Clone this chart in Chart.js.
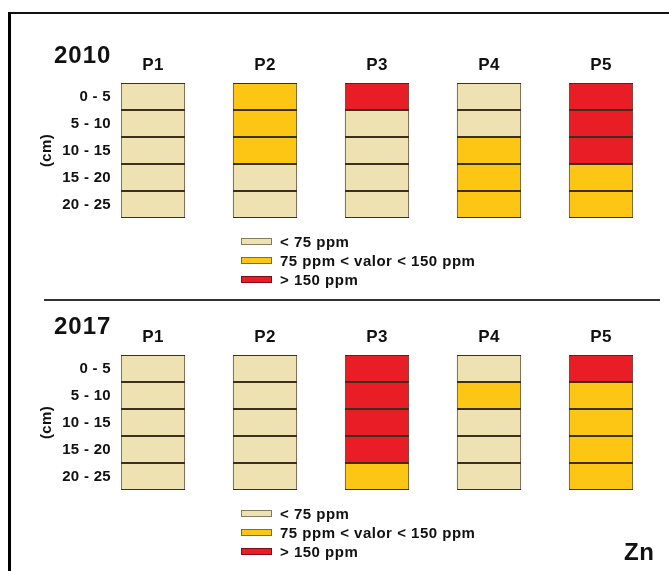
<!DOCTYPE html>
<html>
<head>
<meta charset="utf-8">
<script src="https://cdn.jsdelivr.net/npm/chart.js@4.4.0/dist/chart.umd.min.js"></script>
<style>
html,body{margin:0;padding:0;background:#fff;}
#wrap{position:relative;width:669px;height:571px;overflow:hidden;font-family:"Liberation Sans",Arial,sans-serif;font-weight:bold;color:#111;}
.frameTop{position:absolute;left:8px;top:12px;width:661px;height:2px;background:#111;}
.frameLeft{position:absolute;left:8px;top:12px;width:3px;height:559px;background:#000;}
.divider{position:absolute;left:44px;top:299px;width:616px;height:2px;background:#333;}
canvas{position:absolute;left:0;}
#c2010{top:0;}
#c2017{top:290px;}
.year{position:absolute;left:54px;font-size:24px;line-height:24px;letter-spacing:1px;}
.legend{position:absolute;left:241px;font-size:15px;letter-spacing:0.5px;}
.legend .row{height:19px;display:flex;align-items:center;}
.legend .box{width:29px;height:5px;border:1px solid rgba(0,0,0,0.45);margin-right:8px;}
.zn{position:absolute;left:624px;top:540px;font-size:24px;line-height:24px;letter-spacing:0.5px;}
</style>
</head>
<body>
<div id="wrap">
  <div class="frameTop"></div>
  <div class="frameLeft"></div>
  <div class="divider"></div>
  <canvas id="c2010" width="669" height="290"></canvas>
  <canvas id="c2017" width="669" height="281"></canvas>
  <div class="year" id="y2010" style="top:43px"></div>
  <div class="year" id="y2017" style="top:314px"></div>
  <div class="legend" id="leg2010" style="top:232px"></div>
  <div class="legend" id="leg2017" style="top:504px"></div>
  <div class="zn" id="zn"></div>
</div>
<script>
// ---- data ----
const years = ["2010", "2017"];
const sites = ["P1", "P2", "P3", "P4", "P5"];
const depthLabels = ["0 - 5", "5 - 10", "10 - 15", "15 - 20", "20 - 25"];
const depthBounds = [0, 5, 10, 15, 20, 25];
const classLabels = ["< 75 ppm", "75 ppm < valor < 150 ppm", "> 150 ppm"];
const classColors = ["#EEE2B3", "#FDC614", "#E81D25"];
const element = "Zn";
// class index per depth row (rows) and site (columns)
const classes2010 = [
  [0, 1, 2, 0, 2],
  [0, 1, 0, 0, 2],
  [0, 1, 0, 1, 2],
  [0, 0, 0, 1, 1],
  [0, 0, 0, 1, 1]
];
const classes2017 = [
  [0, 0, 2, 0, 2],
  [0, 0, 2, 1, 1],
  [0, 0, 2, 0, 1],
  [0, 0, 2, 0, 1],
  [0, 0, 1, 0, 1]
];

// ---- text ----
document.getElementById("y2010").textContent = years[0];
document.getElementById("y2017").textContent = years[1];
document.getElementById("zn").textContent = element;
function buildLegend(id) {
  const el = document.getElementById(id);
  classLabels.forEach((lab, k) => {
    const row = document.createElement("div");
    row.className = "row";
    const box = document.createElement("span");
    box.className = "box";
    box.style.background = classColors[k];
    const t = document.createElement("span");
    t.textContent = lab;
    row.appendChild(box); row.appendChild(t);
    el.appendChild(row);
  });
}
buildLegend("leg2010");
buildLegend("leg2017");

// ---- charts ----
const FONT = "'Liberation Sans', Arial, sans-serif";
const spacingPlugin = {
  id: "spacing",
  beforeDraw(chart) { try { chart.ctx.letterSpacing = "0.3px"; } catch (e) {} }
};
function makeChart(id, classes, xAxisHeight, padBottom) {
  const datasets = depthLabels.map((lab, r) => ({
    label: lab,
    data: sites.map((s, c) => ({ x: c, y: [depthBounds[r], depthBounds[r + 1]] })),
    backgroundColor: classes[r].map(k => classColors[k]),
    borderColor: "#3a301c",
    borderWidth: 1,
    borderSkipped: false,
    grouped: false,
    categoryPercentage: 1,
    barPercentage: 0.575
  }));
  return new Chart(document.getElementById(id), {
    type: "bar",
    data: { datasets },
    plugins: [spacingPlugin],
    options: {
      responsive: false,
      animation: false,
      devicePixelRatio: 1,
      layout: { padding: { left: 0, right: 36, top: 0, bottom: padBottom } },
      plugins: { legend: { display: false }, tooltip: { enabled: false } },
      scales: {
        x: {
          type: "linear",
          position: "top",
          offset: false,
          min: -0.2857,
          max: sites.length - 1 + 0.2857,
          grid: { display: false, drawTicks: false },
          border: { display: false },
          afterBuildTicks: ax => { ax.ticks = sites.map((s, i) => ({ value: i })); },
          afterFit: sc => { sc.height = xAxisHeight; },
          ticks: {
            autoSkip: false, maxRotation: 0, padding: 7,
            color: "#111",
            font: { family: FONT, size: 17, weight: "bold" },
            callback: (v, i) => sites[i]
          }
        },
        y: {
          type: "linear",
          reverse: true,
          min: depthBounds[0],
          max: depthBounds[depthBounds.length - 1],
          grid: { display: false, drawTicks: false },
          border: { display: false },
          afterBuildTicks: ax => {
            ax.ticks = depthLabels.map((l, i) => ({ value: (depthBounds[i] + depthBounds[i + 1]) / 2 }));
          },
          afterFit: sc => { sc.width = 121; },
          title: {
            display: true, text: "(cm)", color: "#111",
            font: { family: FONT, size: 15, weight: "bold" },
            padding: { top: 38, bottom: 0 }
          },
          ticks: {
            autoSkip: false, padding: 10, color: "#111",
            font: { family: FONT, size: 15, weight: "bold" },
            callback: (v, i) => depthLabels[i]
          }
        }
      }
    }
  });
}
makeChart("c2010", classes2010, 83, 72);
makeChart("c2017", classes2017, 65, 81);
</script>
</body>
</html>
